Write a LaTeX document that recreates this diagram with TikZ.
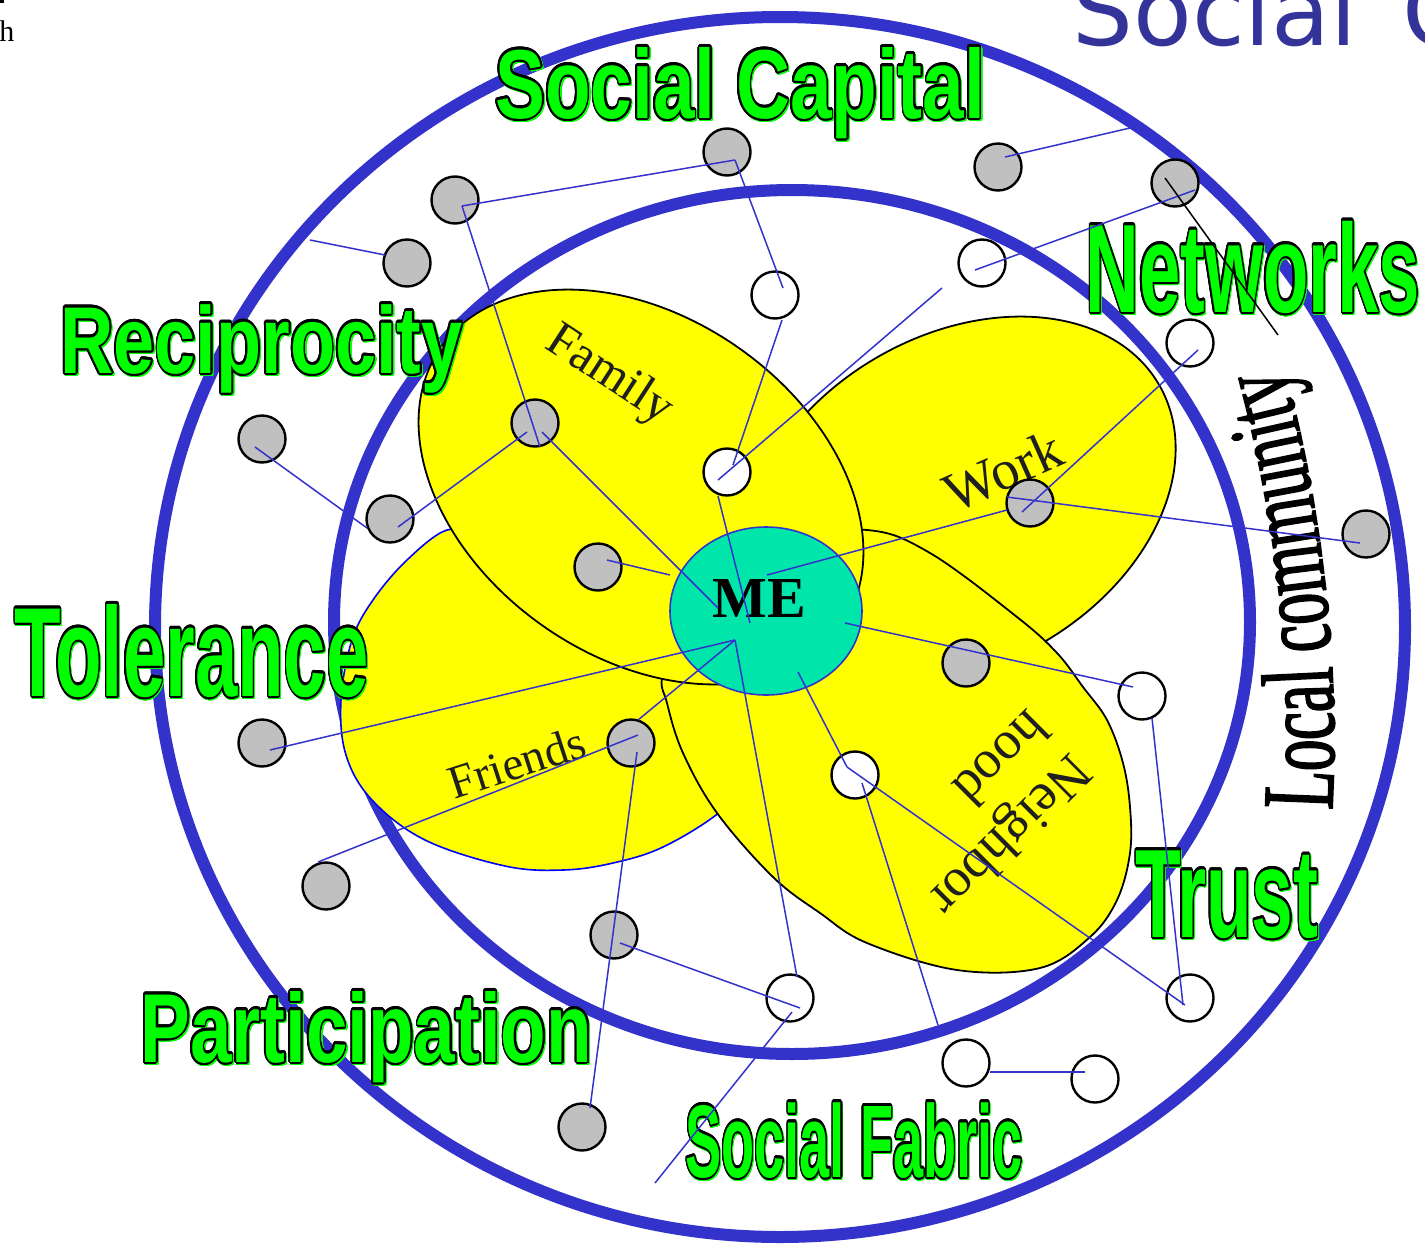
\documentclass[tikz,border=0pt]{standalone}
\usepackage{fontspec}
\usepackage{graphicx}
\usepackage[copies]{contour}
\usetikzlibrary{decorations.text,shapes.geometric}
\setmainfont{Liberation Serif}
\newfontfamily\lsans{Liberation Sans}
\newfontfamily\dvsans{DejaVu Sans}
\newfontfamily\lcfont[FakeStretch=0.62,FakeBold=1.5]{Liberation Serif}
\definecolor{ringblue}{RGB}{51,51,204}
\definecolor{lineblue}{RGB}{51,51,204}
\definecolor{lgreen}{RGB}{0,255,0}
\definecolor{megreen}{RGB}{0,230,170}
\definecolor{cgray}{RGB}{192,192,192}
\definecolor{titleblue}{RGB}{51,51,153}
\definecolor{petalyellow}{RGB}{255,255,0}
\contourlength{1.1pt}
\contournumber{24}
\newcommand{\glab}[3]{\scalebox{#2}[1]{\lsans\bfseries\fontsize{#1}{#1}\selectfont
  \rlap{\hspace{0.8pt}\raisebox{-0.8pt}{\color{lgreen}\contour{lgreen}{#3}}}%
  {\color{lgreen}\contour{black}{#3}}}}
\begin{document}
\begin{tikzpicture}[x=0.5pt,y=-0.5pt,
  gc/.style={circle,draw=black,fill=cgray,line width=1.2pt,minimum size=23.5pt,inner sep=0pt},
  wc/.style={circle,draw=black,fill=white,line width=1.2pt,minimum size=23.5pt,inner sep=0pt},
  conn/.style={draw=lineblue,line width=0.75pt},
  ring/.style={draw=ringblue,line width=6pt},
  petal/.style={draw=black,line width=0.9pt,fill=petalyellow},
  plabel/.style={font=\fontsize{#1}{#1}\selectfont,text=black!88,inner sep=0pt},
  glabel/.style={anchor=base west,inner sep=0pt}]
\useasboundingbox (0,0) rectangle (1425,1248);
% rings
\draw[ring] (780,627) ellipse [x radius=625, y radius=610];
\draw[ring] (792,622) ellipse [x radius=458, y radius=432];
% petals
\draw[petal,draw=blue,line width=0.8pt] plot[smooth cycle,tension=0.6] coordinates {
 (447,530) (407,560) (373,600) (352,640) (341,700) (346,755) (372,800) (425,840)
 (505,866) (563,870) (613,863) (663,847) (720,812) (760,770) (745,690) (680,620)
 (560,565) (475,540)};
\draw[petal,rotate around={30:(960,500)}] (960,500) ellipse [x radius=230, y radius=165];
\draw[petal] plot[smooth cycle,tension=0.6] coordinates {
 (867,530) (930,553) (1017,617) (1057,653) (1083,687) (1107,720) (1123,763) (1130,807)
 (1130,853) (1117,900) (1090,937) (1040,968) (957,970) (867,943) (820,913) (773,877)
 (717,813) (683,753) (667,703) (663,673) (690,610) (780,540)};
\draw[petal,rotate around={-35:(641,487)}] (641,487) ellipse [x radius=244, y radius=170];
% ME
\node (ME) [ellipse,draw=ringblue,line width=0.8pt,fill=megreen,minimum width=96pt,minimum height=84pt,inner sep=0pt] at (766,611) {};
\node (MEtxt) [font=\bfseries\fontsize{29}{29}\selectfont,anchor=base,inner sep=0pt] at (759,617) {ME};
% petal labels
\node (famlab) [plabel=25,rotate=-33] at (609,376) {Family};
\node (worklab) [plabel=28,rotate=24] at (1003,471) {Work};
\node (frlab) [plabel=23.5,rotate=18] at (517,762) {Friends};
\node (nblab) [font=\fontsize{27}{31}\selectfont,text=black!88,inner sep=0pt,rotate=-135,align=left] at (990,815) {Neighbor\\hood};
% green labels
\node[glabel] (lbSC) at (495,118) {\glab{49}{0.762}{Social Capital}};
\node[glabel] (lbNW) at (1085,312) {\glab{63}{0.59}{Networks}};
\node[glabel] (lbRC) at (60,373) {\glab{47.5}{0.777}{Reciprocity}};
\node[glabel] (lbTL) at (14,696) {\glab{63.5}{0.6}{Tolerance}};
\node[glabel] (lbTR) at (1135,937) {\glab{63}{0.594}{Trust}};
\node[glabel] (lbPA) at (140,1062) {\glab{49}{0.761}{Participation}};
\node[glabel] (lbSF) at (685,1177) {\glab{51.6}{0.525}{Social Fabric}};
% local community
\path[decorate,decoration={text along path,text={|\lcfont\fontsize{51}{51}\selectfont|Local community}}]
  (1332,810) .. controls (1341,650) and (1318,480) .. (1275,335);
% circles
\node[gc] (G1) at (727,152) {};
\node[gc] (G2) at (455,200) {};
\node[gc] (G3) at (998,167) {};
\node[gc] (G4) at (1175,183) {};
\node[gc] (G5) at (407,263) {};
\node[gc] (G6) at (262,439) {};
\node[gc] (G7) at (390,519) {};
\node[gc] (G8) at (535,423) {};
\node[gc] (G9) at (598,567) {};
\node[gc] (G10) at (1030,503) {};
\node[gc] (G11) at (1366,534) {};
\node[gc] (G12) at (966,663) {};
\node[gc] (G13) at (262,743) {};
\node[gc] (G14) at (631,743) {};
\node[gc] (G15) at (326,886) {};
\node[gc] (G16) at (614,935) {};
\node[gc] (G17) at (582,1127) {};
\node[wc] (W1) at (775,295) {};
\node[wc] (W2) at (982,263) {};
\node[wc] (W3) at (1190,343) {};
\node[wc] (W4) at (727,472) {};
\node[wc] (W5) at (1142,696) {};
\node[wc] (W6) at (855,775) {};
\node[wc] (W7) at (1190,998) {};
\node[wc] (W8) at (790,998) {};
\node[wc] (W9) at (966,1063) {};
\node[wc] (W10) at (1095,1079) {};
% free ends
\coordinate (F1) at (310,240);
\coordinate (F2) at (942,288);
\coordinate (F3) at (655,1183);
\coordinate (F4) at (938,1025);
\coordinate (F5) at (1130,128);
\coordinate (F6) at (1278,335);
% connectors
\draw[conn] (F1) -- ([shift={(-22,-8)}]G5.center);
\draw[conn] ([shift={(7,6)}]G2.center) -- ([shift={(8,8)}]G1.center);
\draw[conn] ([shift={(8,8)}]G1.center) -- ([shift={(8,-7)}]W1.center);
\draw[conn] ([shift={(7,6)}]G2.center) -- ([shift={(5,24)}]G8.center);
\draw[conn] ([shift={(7,25)}]W1.center) -- ([shift={(6,-7)}]W4.center);
\draw[conn] (F2) -- ([shift={(-9,8)}]W4.center);
\draw[conn] ([shift={(-9,24)}]W4.center) -- ([shift={(-16,12)}]ME.center);
\draw[conn] ([shift={(7,9)}]G8.center) -- ([shift={(-48,-3)}]ME.center);
\draw[conn] ([shift={(9,-7)}]G9.center) -- ([shift={(-96,-36)}]ME.center);
\draw[conn] ([shift={(-8,9)}]G8.center) -- ([shift={(8,8)}]G7.center);
\draw[conn] ([shift={(-7,8)}]G6.center) -- ([shift={(-23,9)}]G7.center);
\draw[conn] ([shift={(8,7)}]G13.center) -- ([shift={(-31,29)}]ME.center);
\draw[conn] ([shift={(7,-23)}]G14.center) -- ([shift={(-31,29)}]ME.center);
\draw[conn] ([shift={(7,-8)}]G14.center) -- ([shift={(-8,-24)}]G15.center);
\draw[conn] ([shift={(6,9)}]G14.center) -- ([shift={(8,-19)}]G17.center);
\draw[conn] ([shift={(6,8)}]G16.center) -- ([shift={(10,10)}]W8.center);
\draw[conn] ([shift={(-31,29)}]ME.center) -- ([shift={(7,-21)}]W8.center);
\draw[conn] ([shift={(2,14)}]W8.center) -- (F3);
\draw[conn] ([shift={(32,61)}]ME.center) -- ([shift={(-8,-8)}]W6.center);
\draw[conn] ([shift={(-8,-8)}]W6.center) -- ([shift={(-5,7)}]W7.center);
\draw[conn] ([shift={(7,8)}]W6.center) -- (F4);
\draw[conn] ([shift={(79,12)}]ME.center) -- ([shift={(-9,-9)}]W5.center);
\draw[conn] ([shift={(10,22)}]W5.center) -- ([shift={(-7,7)}]W7.center);
\draw[conn] ([shift={(24,9)}]W9.center) -- ([shift={(-10,-7)}]W10.center);
\draw[conn] ([shift={(1,-36)}]ME.center) -- ([shift={(-23,7)}]G10.center);
\draw[conn] ([shift={(-8,9)}]G10.center) -- ([shift={(8,7)}]W3.center);
\draw[conn] ([shift={(-23,-6)}]G10.center) -- ([shift={(-6,9)}]G11.center);
\draw[conn] ([shift={(-7,7)}]W2.center) -- ([shift={(20,7)}]G4.center);
\draw[conn] ([shift={(7,-10)}]G3.center) -- (F5);
\draw[black,line width=0.75pt] ([shift={(-10,-5)}]G4.center) -- (F6);
% title and page fragments
\node[anchor=base west,inner sep=0pt,text=titleblue,font=\dvsans\fontsize{48}{48}\selectfont] (title) at (1072,45) {Social\ \kern7.5pt C};
\node[anchor=base west,inner sep=0pt,font=\fontsize{15}{15}\selectfont] (hmark) at (-1,41) {h};
\fill (0,0) rectangle (4,3);
\end{tikzpicture}
\end{document}
